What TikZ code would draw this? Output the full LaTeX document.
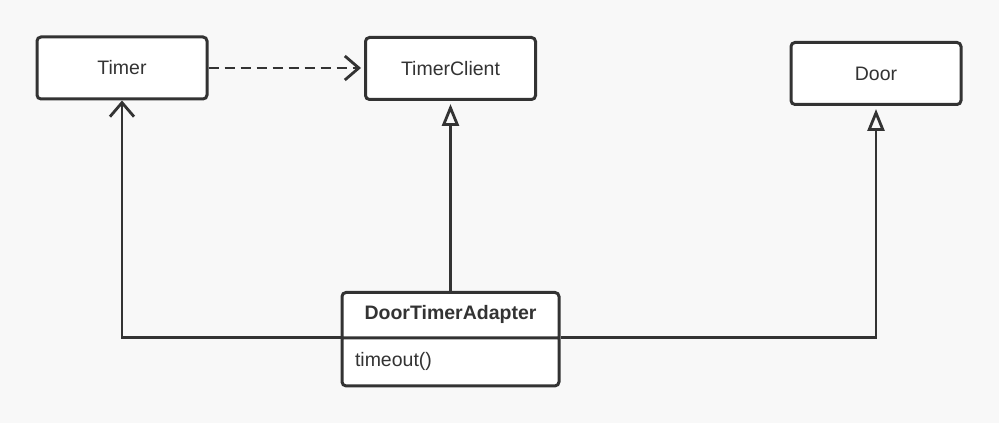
\documentclass[tikz,border=0pt]{standalone}
\usepackage{fontspec}
\setmainfont{Liberation Sans}
\usepackage{tikz}
\usetikzlibrary{arrows.meta,positioning,shapes.multipart}

\definecolor{linec}{HTML}{333333}
\definecolor{bgc}{HTML}{F8F8F8}

\begin{document}
\begin{tikzpicture}[
  x=1pt, y=1pt,
  font=\fontsize{19.5}{23.4}\selectfont,
  cls/.style={draw=linec, line width=3pt, rounded corners=4pt, fill=white, align=center, text=linec, minimum width=170pt, minimum height=62pt},
  dep/.style={-{Straight Barb[length=14pt, width=24pt, line width=2.8pt]}, line width=2.8pt, draw=linec, dash pattern=on 10pt off 6pt, shorten >=3pt},
  assoc/.style={-{Straight Barb[length=14pt, width=24pt, line width=2.8pt]}, line width=2.8pt, draw=linec},
  gen/.style={-{Triangle[open, length=22pt, width=17pt, line width=2.8pt]}, line width=2.8pt, draw=linec, shorten >=3pt}
]
\useasboundingbox[fill=bgc] (0,0) rectangle (999,423);

\node[cls] (timer) at (122,355) {Timer};
\node[cls] (client) at (450.5,354.5) {TimerClient};
\node[cls] (door) at (876,349.5) {Door};
\node[cls, rectangle split, rectangle split parts=2, rectangle split part align={center,left},
  minimum width=217pt, minimum height=0pt, inner xsep=13pt, inner ysep=9.5pt, anchor=north]
  (adapter) at (450.5,132) {\strut\textbf{DoorTimerAdapter}\nodepart{two}\rule[-8.1pt]{0pt}{26pt}timeout()};

\draw[dep] (timer.east) -- (timer.east -| client.west);
\draw[assoc] (adapter.text split west) -| (timer.south);
\draw[gen] (adapter.north -| client.south) -- (client.south);
\draw[gen] (adapter.text split east) -| (door.south);
\end{tikzpicture}
\end{document}
